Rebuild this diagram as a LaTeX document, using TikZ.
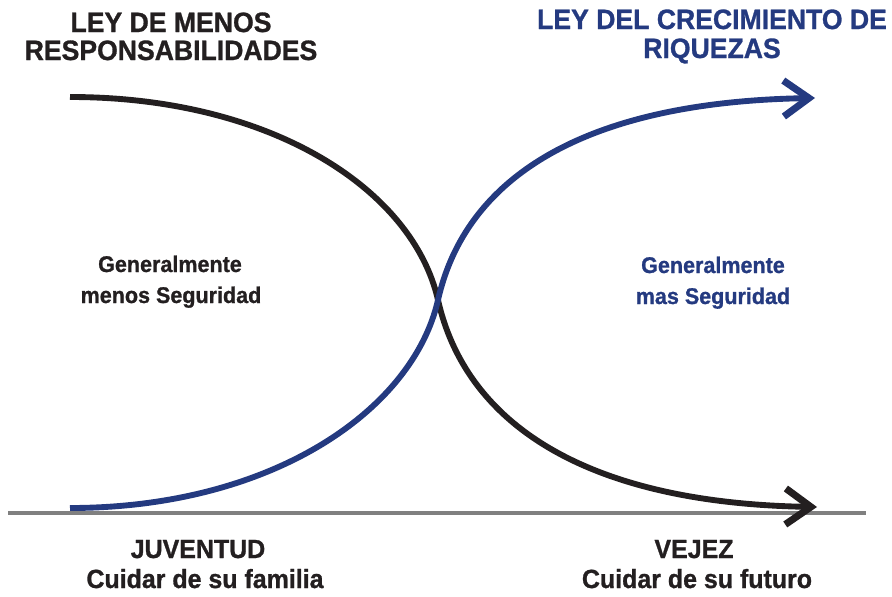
\documentclass[tikz,border=0pt]{standalone}
\usepackage{fontspec}
\setmainfont{Liberation Sans}
\newfontfamily\heavy{Liberation Sans Bold}[FakeBold=1,FakeStretch=0.95]
\usetikzlibrary{arrows.meta}
\definecolor{navy}{RGB}{36,58,128}
\definecolor{ink}{RGB}{35,31,32}
\definecolor{axisgray}{RGB}{128,128,128}
\tikzset{
  title/.style={anchor=base, inner sep=0pt, font=\heavy\fontsize{21}{24}\selectfont},
  mid/.style={anchor=base, inner sep=0pt, font=\heavy\fontsize{17}{20}\selectfont},
  bottom/.style={anchor=base, inner sep=0pt, font=\heavy\fontsize{19.7}{22}\selectfont, text=ink},
  curve/.style={line width=4.4pt, -{Straight Barb[length=19pt,width=27pt,line width=5.3pt]}},
}
\begin{document}
\begin{tikzpicture}[x=0.75pt,y=-0.75pt]
\useasboundingbox (0,0) rectangle (892,596);
% axis
\coordinate (axL) at (8,513);
\coordinate (axR) at (866,513);
\draw[axisgray, line width=2.3pt] (axL) -- (axR);
% curves
\coordinate (bS) at (70,97);
\coordinate (X) at (438,300);
\coordinate (bE) at (817,507);
\coordinate (uS) at (70,508);
\coordinate (uE) at (815,98);
\draw[curve, ink] (bS) .. controls (272,97) and (413,190) .. (X)
                       .. controls (465,420) and (580,503) .. (bE);
\draw[curve, navy] (uS) .. controls (272,508) and (413,410) .. (X)
                        .. controls (465,180) and (580,102) .. (uE);
% titles
\node[title, text=ink] (t1a) at (171,32) {LEY DE MENOS};
\node[title, text=ink] (t1b) at (171,60) {RESPONSABILIDADES};
\node[title, text=navy] (t2a) at (712,29) {LEY DEL CRECIMIENTO DE};
\node[title, text=navy] (t2b) at (712,58) {RIQUEZAS};
% middle
\node[mid, text=ink] (m1a) at (170,272) {Generalmente};
\node[mid, text=ink] (m1b) at (171,303) {menos Seguridad};
\node[mid, text=navy] (m2a) at (713,273) {Generalmente};
\node[mid, text=navy] (m2b) at (713,304) {mas Seguridad};
% bottom
\node[bottom] (b1a) at (198,558) {JUVENTUD};
\node[bottom] (b1b) at (205,588) {Cuidar de su familia};
\node[bottom] (b2a) at (694,558) {VEJEZ};
\node[bottom] (b2b) at (697,588) {Cuidar de su futuro};
\end{tikzpicture}
\end{document}
